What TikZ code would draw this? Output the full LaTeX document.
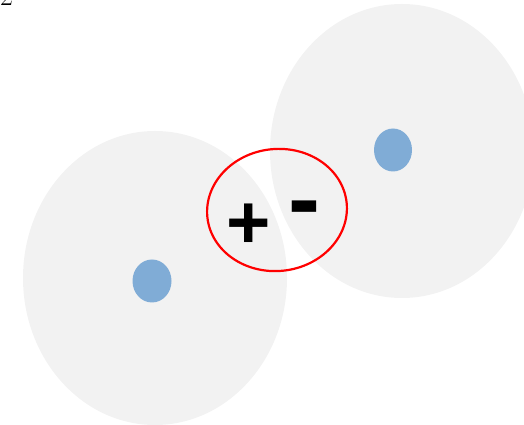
\documentclass[tikz,border=0pt]{standalone}
\usepackage{fontspec}
\newfontfamily\signfont{Liberation Sans}
\definecolor{cloudgray}{HTML}{F2F2F2}
\definecolor{dotblue}{HTML}{80ACD6}
\definecolor{ringred}{HTML}{FF0000}
\tikzset{
  cloud/.style={fill=cloudgray, even odd rule},
  dot/.style={fill=dotblue},
  ring/.style={draw=ringred, line width=2.2pt},
  sign/.style={inner sep=0pt, font=\signfont\bfseries},
}
\begin{document}
\begin{tikzpicture}[x=1pt,y=1pt]
\useasboundingbox (0,0) rectangle (524,425);
\clip (0,0) rectangle (524,425);
\fill[cloud] (155,147) ellipse [x radius=132, y radius=147]
             (402,274) ellipse [x radius=132, y radius=147];
\fill[dot] (152,144) ellipse [x radius=19.5, y radius=21.5];
\fill[dot] (393,275) ellipse [x radius=19, y radius=21.5];
\draw[ring, rotate around={6:(277,215)}] (277,215) ellipse [x radius=70, y radius=61];
\node[sign, font=\signfont\bfseries\fontsize{76}{80}\selectfont] (plus) at (249,199) {+};
\node[sign, font=\signfont\bfseries\fontsize{96}{100}\selectfont] (minus) at (304,209) {-};
\node[inner sep=0pt, anchor=base west, font=\fontsize{28}{30}\selectfont] (two) at (0,419) {2};
\end{tikzpicture}
\end{document}
